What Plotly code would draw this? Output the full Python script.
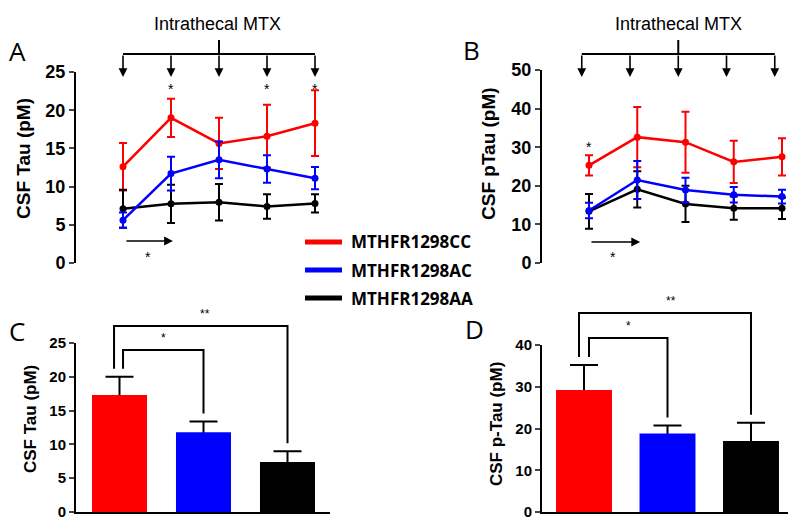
import plotly.graph_objects as go

W, H = 800, 520
OFF = 8  # page body margin offset (px)

# ---------------- data ----------------
timepoints = [1, 2, 3, 4, 5]
genotypes = ["MTHFR1298CC", "MTHFR1298AC", "MTHFR1298AA"]
colors = ["#ff0000", "#0000ff", "#000000"]

tau_cc = [12.6, 19.0, 15.65, 16.6, 18.3]
tau_cc_err = [3.1, 2.5, 3.35, 4.1, 4.3]
tau_ac = [5.6, 11.7, 13.5, 12.3, 11.1]
tau_ac_err = [1.0, 2.2, 2.4, 1.8, 1.45]
tau_aa = [7.1, 7.75, 7.95, 7.4, 7.8]
tau_aa_err = [2.5, 2.5, 2.4, 1.6, 1.2]

ptau_cc = [25.3, 32.6, 31.3, 26.2, 27.5]
ptau_cc_err = [2.6, 7.8, 7.9, 5.5, 4.85]
ptau_ac = [13.6, 21.5, 18.9, 17.7, 17.2]
ptau_ac_err = [2.0, 4.9, 3.2, 2.0, 1.8]
ptau_aa = [13.4, 19.1, 15.3, 14.2, 14.2]
ptau_aa_err = [4.5, 4.7, 4.7, 3.0, 2.8]

tau_mean = [17.3, 11.8, 7.4]
tau_sem = [2.7, 1.6, 1.6]
ptau_mean = [29.2, 18.8, 17.0]
ptau_sem = [6.0, 1.9, 4.4]

tau_ticks = [0, 5, 10, 15, 20, 25]
ptau_ticks = [0, 10, 20, 30, 40, 50]
ptau_bar_ticks = [0, 10, 20, 30, 40]

sig_A = [2, 4, 5]       # timepoints with * in panel A
sig_B = [1]             # timepoint with * in panel B


# ---------------- helpers ----------------
def fx(px):
    return (px - OFF) / W


def fy(py):
    return 1 - (py - OFF) / H


AX_FONT = "Liberation Sans"
TXT_FONT = "Open Sans"

A_dom_x = [fx(76), fx(330)]
A_rng_x = [1 - 47 / 48, 1 + (330 - 123) / 48]
A_dom_y = [fy(263), fy(72)]
B_dom_x = [fx(542), fx(797)]
B_rng_x = [1 - 47 / 48.25, 1 + (797 - 589) / 48.25]
B_dom_y = [fy(263), fy(70)]
C_dom_x = [fx(76), fx(330)]
C_rng_x = [-43.5 / 84, 2 + 42.5 / 84]
C_dom_y = [fy(512), fy(343)]
D_dom_x = [fx(542), fx(788)]
D_rng_x = [-42 / 83.5, 2 + 37 / 83.5]
D_dom_y = [fy(512), fy(345)]


def val2paper(v, dom, rng):
    return dom[0] + (v - rng[0]) / (rng[1] - rng[0]) * (dom[1] - dom[0])


fig = go.Figure()

# ---------------- line panels ----------------
line_sets = [
    ("x", "y", [(tau_cc, tau_cc_err, 0), (tau_aa, tau_aa_err, 2), (tau_ac, tau_ac_err, 1)]),
    ("x2", "y2", [(ptau_cc, ptau_cc_err, 0), (ptau_aa, ptau_aa_err, 2), (ptau_ac, ptau_ac_err, 1)]),
]
for xa, ya, series in line_sets:
    for vals, errs, gi in series:
        fig.add_trace(go.Scatter(
            x=timepoints, y=vals, mode="lines+markers", name=genotypes[gi],
            line=dict(color=colors[gi], width=2.5),
            marker=dict(color=colors[gi], size=7),
            error_y=dict(type="data", array=errs, color=colors[gi], thickness=2, width=4),
            xaxis=xa, yaxis=ya, showlegend=False, cliponaxis=False,
        ))

# ---------------- bar panels ----------------
for xa, ya, means, sems, bw in [("x3", "y3", tau_mean, tau_sem, 0.655),
                                 ("x4", "y4", ptau_mean, ptau_sem, 0.67)]:
    fig.add_trace(go.Bar(
        x=genotypes, y=means, width=bw, marker=dict(color="rgba(0,0,0,0)", line=dict(width=0)),
        error_y=dict(type="data", array=sems, color="black", thickness=2, width=14),
        xaxis=xa, yaxis=ya, showlegend=False, hoverinfo="skip",
    ))
    fig.add_trace(go.Bar(
        x=genotypes, y=means, width=bw, marker=dict(color=colors, line=dict(width=0)),
        xaxis=xa, yaxis=ya, showlegend=False,
    ))

shapes = []
annotations = []


def label(x, y, text, font, xref="paper", yref="paper", **kw):
    d = dict(x=x, y=y, xref=xref, yref=yref, text=text, showarrow=False, font=font,
             xanchor="center", yanchor="middle")
    d.update(kw)
    annotations.append(d)


# ---------------- intrathecal MTX brackets ----------------
for xa, dx, ctr_px in [("x", 0.0, 217), ("x2", -0.15, 678)]:
    xs = [t + dx for t in timepoints]
    shapes.append(dict(type="line", xref=xa, yref="paper", x0=xs[0], x1=xs[-1],
                       y0=fy(54), y1=fy(54), line=dict(color="black", width=2)))
    shapes.append(dict(type="line", xref=xa, yref="paper", x0=xs[2], x1=xs[2],
                       y0=fy(54), y1=fy(40), line=dict(color="black", width=2)))
    for x in xs:
        annotations.append(dict(x=x, y=fy(77), xref=xa, yref="paper", text="",
                                showarrow=True, ax=0, ay=-23, axref="pixel", ayref="pixel",
                                arrowhead=2, arrowsize=1.1, arrowwidth=1.6, arrowcolor="black",
                                standoff=0, startstandoff=0))
    label(fx(ctr_px), fy(24), "Intrathecal MTX", dict(family=AX_FONT, size=18, color="black"))

star_font = dict(family=AX_FONT, size=14, color="black")
for t in sig_A:
    label(t, fy(89), "*", star_font, xref="x")
for t in sig_B:
    label(t, fy(147), "*", star_font, xref="x2")

# bottom time arrows with star
for xa, x0, x1, ypx, starx in [("x", 1.04, 2.04, 241, 148), ("x2", 1.02, 2.06, 242, 613)]:
    annotations.append(dict(x=x1, y=fy(ypx), xref=xa, yref="paper", ax=x0, axref=xa,
                            ay=0, ayref="pixel", text="", showarrow=True, arrowhead=2,
                            arrowsize=1.1, arrowwidth=1.6, arrowcolor="black",
                            standoff=0, startstandoff=0))
    label(fx(starx), fy(257), "*", star_font)


# ---------------- bar significance brackets ----------------
def bracket(xa, dom, rng, means, sems, xl, xr, top_px, text, label_dx):
    yl = val2paper(means[0] + sems[0], dom, rng) + 8 / H
    ir = round(xr)
    yr = val2paper(means[ir] + sems[ir], dom, rng) + 8 / H
    yt = fy(top_px)
    shapes.append(dict(type="path", xref=xa, yref="paper",
                       path=f"M {xl} {yl} L {xl} {yt} L {xr} {yt} L {xr} {yr}",
                       line=dict(color="black", width=2)))
    label((xl + xr) / 2 + label_dx, yt + 3 / H, text,
          dict(family=AX_FONT, size=12, color="black"), xref=xa, yanchor="bottom")


bracket("x3", C_dom_y, [0, 25], tau_mean, tau_sem, 0.042, 1.0, 350, "*", 0.0)
bracket("x3", C_dom_y, [0, 25], tau_mean, tau_sem, -0.065, 2.0, 326, "**", 0.05)
bracket("x4", D_dom_y, [0, 40], ptau_mean, ptau_sem, 0.06, 1.0, 338, "*", 0.0)
bracket("x4", D_dom_y, [0, 40], ptau_mean, ptau_sem, -0.06, 2.0, 313, "**", 0.07)

# ---------------- legend (manual) ----------------
for i, (name, col) in enumerate(zip(genotypes, colors)):
    ypx = 242 + 28 * i
    shapes.append(dict(type="line", xref="paper", yref="paper", x0=fx(305), x1=fx(342),
                       y0=fy(ypx), y1=fy(ypx), line=dict(color=col, width=5)))
    label(fx(349), fy(ypx), name,
          dict(family=TXT_FONT, size=17, color="black", weight="bold"), xanchor="left")

# ---------------- axis titles & panel letters ----------------
for txt, xpx, ypx, sz in [("CSF Tau (pM)", 23, 159, 19), ("CSF pTau (pM)", 488, 154, 19),
                          ("CSF Tau (pM)", 30, 419, 17), ("CSF p-Tau (pM)", 496, 424, 17)]:
    label(fx(xpx), fy(ypx), txt, dict(family=AX_FONT, size=sz, color="black", weight="bold"),
          textangle=-90)
for txt, xpx, ypx in [("A", 17, 51), ("B", 472, 50), ("C", 17, 331), ("D", 474, 329)]:
    label(fx(xpx), fy(ypx), txt, dict(family=TXT_FONT, size=26, color="black"))


# ---------------- axes ----------------
def yax(dom, rng, ticks, anchor, fsz):
    return dict(domain=dom, range=rng, tickvals=ticks, ticks="outside", ticklen=5, tickwidth=2,
                showline=True, linewidth=2, linecolor="black", showgrid=False, zeroline=False,
                anchor=anchor, automargin=False,
                tickfont=dict(family=AX_FONT, size=fsz, color="black", weight="bold"),
                fixedrange=True)


def xline(dom, rng, anchor, show):
    return dict(domain=dom, range=rng, showline=show, linewidth=2, linecolor="black",
                ticks="", showticklabels=False, showgrid=False, zeroline=False, anchor=anchor,
                automargin=False, fixedrange=True)


fig.update_layout(
    width=W, height=H, autosize=False,
    margin=dict(l=0, r=0, t=0, b=0, pad=0, autoexpand=False),
    paper_bgcolor="white", plot_bgcolor="white",
    showlegend=False, barmode="overlay",
    xaxis=xline(A_dom_x, A_rng_x, "y", False),
    yaxis=yax(A_dom_y, [0, 25], tau_ticks, "x", 18),
    xaxis2=xline(B_dom_x, B_rng_x, "y2", False),
    yaxis2=yax(B_dom_y, [0, 50], ptau_ticks, "x2", 18),
    xaxis3=dict(xline(C_dom_x, C_rng_x, "y3", True), type="category"),
    yaxis3=yax(C_dom_y, [0, 25], tau_ticks, "x3", 15),
    xaxis4=dict(xline(D_dom_x, D_rng_x, "y4", True), type="category"),
    yaxis4=yax(D_dom_y, [0, 40], ptau_bar_ticks, "x4", 15),
    shapes=shapes,
    annotations=annotations,
)

fig.write_html("out.html")
